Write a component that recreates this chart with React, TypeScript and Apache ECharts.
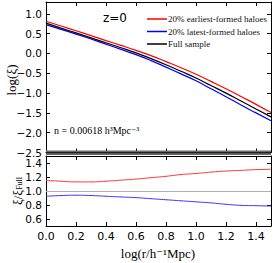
import React, { useEffect, useRef } from "react";
import * as echarts from "echarts";

const logR = [0, 0.1, 0.2, 0.3, 0.4, 0.5, 0.6, 0.7, 0.8, 0.9, 1.0, 1.1, 1.2, 1.3, 1.4, 1.5];
const xiEarly = [0.815, 0.695, 0.575, 0.45, 0.325, 0.205, 0.08, -0.055, -0.205, -0.36, -0.525, -0.705, -0.89, -1.085, -1.285, -1.49];
const xiLate = [0.73, 0.61, 0.49, 0.365, 0.235, 0.105, -0.03, -0.18, -0.345, -0.515, -0.69, -0.89, -1.09, -1.3, -1.5, -1.7];
const xiFull = [0.765, 0.64, 0.52, 0.395, 0.27, 0.145, 0.015, -0.13, -0.285, -0.45, -0.62, -0.81, -1.0, -1.2, -1.4, -1.6];
const ratioEarly = [1.15, 1.14, 1.13, 1.13, 1.14, 1.155, 1.17, 1.19, 1.21, 1.235, 1.25, 1.27, 1.285, 1.295, 1.305, 1.31];
const ratioLate = [0.925, 0.935, 0.94, 0.935, 0.925, 0.915, 0.905, 0.89, 0.875, 0.86, 0.845, 0.83, 0.81, 0.795, 0.79, 0.785];

const xTicks = [0, 0.2, 0.4, 0.6, 0.8, 1.0, 1.2, 1.4];
const yTopTicks = [-2.5, -2.0, -1.5, -1.0, -0.5, 0.0, 0.5, 1.0];
const yBotTicks = [0.6, 0.8, 1.0, 1.2, 1.4];

const names = ["20% earliest-formed haloes", "20% latest-formed haloes", "Full sample"];

const fmt = (v: number) => v.toFixed(1).replace("-", "\u2212");
const pairs = (ys: number[]) => logR.map((x, i) => [x, ys[i]]);

const TICK_FONT = { fontFamily: "DejaVu Sans", fontSize: 10.5, color: "#000" };
const SERIF = "'Liberation Serif', 'DejaVu Serif', serif";

function xAxisCfg(grid: number, position: "top" | "bottom", labels: boolean) {
  return {
    type: "value",
    gridIndex: grid,
    position,
    min: 0,
    max: 1.5,
    axisLine: { show: true, onZero: false, lineStyle: { color: "#000", width: 1 } },
    axisTick: { show: true, inside: true, length: 4, customValues: xTicks, lineStyle: { color: "#000" } },
    axisLabel: labels
      ? { show: true, customValues: xTicks, formatter: fmt, margin: 5, ...TICK_FONT, fontSize: 11 }
      : { show: false },
    splitLine: { show: false },
  };
}

function yAxisCfg(grid: number, position: "left" | "right", labels: boolean, min: number, max: number, ticks: number[]) {
  return {
    type: "value",
    gridIndex: grid,
    position,
    min,
    max,
    axisLine: { show: true, onZero: false, lineStyle: { color: "#000", width: 1 } },
    axisTick: { show: true, inside: true, length: 4, customValues: ticks, lineStyle: { color: "#000" } },
    axisLabel: labels
      ? { show: true, customValues: ticks, formatter: fmt, margin: 4, ...TICK_FONT }
      : { show: false },
    splitLine: { show: false },
  };
}

export default function App() {
  const ref = useRef<HTMLDivElement>(null);
  useEffect(() => {
    document.body.style.margin = "0";
    if (!ref.current) return;
    const chart = echarts.init(ref.current, null, { renderer: "svg" });
    const line = (name: string, data: number[], color: string, x: number, y: number, width = 1.2) => ({
      type: "line",
      name,
      xAxisIndex: x,
      yAxisIndex: y,
      data: pairs(data),
      showSymbol: false,
      symbol: "none",
      smooth: true,
      lineStyle: { color, width },
      itemStyle: { color },
      silent: true,
    });
    chart.setOption({
      animation: false,
      backgroundColor: "#fff",
      grid: [
        { left: 46, width: 225, top: 2, height: 150.5 },
        { left: 46, width: 225, top: 156, height: 70 },
      ],
      xAxis: [
        xAxisCfg(0, "bottom", false),
        xAxisCfg(0, "top", false),
        xAxisCfg(1, "bottom", true),
        xAxisCfg(1, "top", false),
      ],
      yAxis: [
        yAxisCfg(0, "left", true, -2.5, 1.3, yTopTicks),
        yAxisCfg(0, "right", false, -2.5, 1.3, yTopTicks),
        yAxisCfg(1, "left", true, 0.5, 1.5, yBotTicks),
        yAxisCfg(1, "right", false, 0.5, 1.5, yBotTicks),
      ],
      legend: {
        orient: "vertical",
        left: 142,
        top: 9,
        itemWidth: 20,
        itemHeight: 1.5,
        itemGap: 2.5,
        icon: "rect",
        data: names,
        selectedMode: false,
        itemStyle: { borderWidth: 0 },
        lineStyle: { width: 0 },
        textStyle: { fontFamily: SERIF, fontSize: 9, fontWeight: "normal", color: "#111", lineHeight: 10, padding: [0, 0, 0, -4] },
      },
      series: [
        line(names[0], xiEarly, "#ff0000", 0, 0),
        line(names[1], xiLate, "#0000ff", 0, 0),
        line(names[2], xiFull, "#000000", 0, 0),
        {
          ...line("ratio early", ratioEarly, "#ff3333", 2, 2, 1),
          markLine: {
            silent: true,
            symbol: "none",
            label: { show: false },
            lineStyle: { color: "#b0b0b0", type: "solid", width: 1 },
            data: [{ yAxis: 1.0 }],
          },
        },
        line("ratio late", ratioLate, "#3333ff", 2, 2, 1),
      ],
      graphic: [
        { type: "rect", shape: { x: 46, y: 150.5, width: 225, height: 4.5 }, style: { fill: "#6a6a6a" }, z: 100 },
        { type: "rect", shape: { x: 46, y: 152, width: 225, height: 1.2 }, style: { fill: "#222" }, z: 101 },
        {
          type: "text",
          x: 103,
          y: 18,
          style: { text: "z=0", font: "12px 'DejaVu Sans'", fill: "#000", textAlign: "left", textVerticalAlign: "middle", align: "left", verticalAlign: "middle" },
        },
        {
          type: "text",
          x: 54,
          y: 130,
          style: { text: "n = 0.00618 h\u00b3Mpc\u207b\u00b3", font: `10px ${SERIF}`, fill: "#000", textAlign: "left", textVerticalAlign: "middle", align: "left", verticalAlign: "middle" },
        },
        {
          type: "text",
          x: 11,
          y: 80,
          rotation: Math.PI / 2,
          style: { text: "log(\u03be)", font: `13px ${SERIF}`, fill: "#000", textAlign: "center", textVerticalAlign: "middle", align: "center", verticalAlign: "middle" },
        },
        {
          type: "text",
          x: 17,
          y: 191,
          rotation: Math.PI / 2,
          style: {
            text: "{m|\u03be/\u03be}{s|Full}",
            rich: {
              m: { fontFamily: SERIF, fontSize: 13, fill: "#000", color: "#000" },
              s: { fontFamily: SERIF, fontSize: 8, fill: "#000", color: "#000", verticalAlign: "bottom", padding: [4, 0, 0, 0] },
            },
            textAlign: "center",
            textVerticalAlign: "middle",
            align: "center",
            verticalAlign: "middle",
          },
        },
        {
          type: "text",
          x: 158,
          y: 253,
          style: { text: "log(r/h\u207b\u00b9Mpc)", font: `13px ${SERIF}`, fill: "#000", textAlign: "center", textVerticalAlign: "middle", align: "center", verticalAlign: "middle" },
        },
      ],
    });
    return () => chart.dispose();
  }, []);
  return <div ref={ref} style={{ width: 274, height: 263 }} />;
}
